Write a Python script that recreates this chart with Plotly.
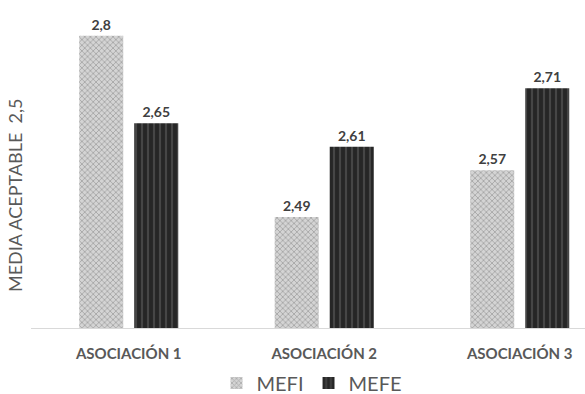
import plotly.graph_objects as go

categories = ["ASOCIACIÓN 1", "ASOCIACIÓN 2", "ASOCIACIÓN 3"]
mefi = [2.8, 2.49, 2.57]
mefe = [2.65, 2.61, 2.71]
series_names = ["MEFI", "MEFE"]


def comma_labels(values):
    return [str(v).replace(".", ",") for v in values]


FONT = "Lato, Open Sans, sans-serif"
label_font = dict(family=FONT, size=14, color="#404040", weight="bold")

fig = go.Figure()
fig.add_trace(go.Bar(
    name=series_names[0], x=categories, y=mefi,
    text=comma_labels(mefi), textposition="outside", textfont=label_font,
    cliponaxis=False,
    marker=dict(color="#bdbdbd",
                pattern=dict(shape="x", fgcolor="#7a7a7a", bgcolor="#d4d4d4",
                             size=4, solidity=0.4, fillmode="overlay"),
                line=dict(width=0)),
))
fig.add_trace(go.Bar(
    name=series_names[1], x=categories, y=mefe,
    text=comma_labels(mefe), textposition="outside", textfont=label_font,
    cliponaxis=False,
    marker=dict(color="#2e2e2e",
                pattern=dict(shape="|", fgcolor="#666666", bgcolor="#262626",
                             size=6, solidity=0.35, fillmode="overlay"),
                line=dict(width=0)),
))

fig.update_layout(
    width=585, height=394,
    margin=dict(l=31, r=0, t=0, b=66, autoexpand=False),
    paper_bgcolor="white", plot_bgcolor="white",
    barmode="group", bargap=0.437, bargroupgap=0.2,
    showlegend=True,
    legend=dict(orientation="h", xref="container", yref="container",
                x=312 / 585, xanchor="center", y=(394 - 383) / 394, yanchor="middle",
                font=dict(family=FONT, size=20, color="#595959"),
                itemwidth=30, traceorder="normal"),
    xaxis=dict(range=[-0.5, 2.334], showline=True, linecolor="#d9d9d9", linewidth=1,
               ticks="outside", ticklen=12, tickcolor="rgba(0,0,0,0)",
               tickfont=dict(family=FONT, size=15, color="#595959", weight="bold"),
               showgrid=False, zeroline=False, fixedrange=True, automargin=False),
    yaxis=dict(range=[2.3, 2.861], visible=False, showgrid=False, zeroline=False),
    annotations=[dict(
        text="MEDIA ACEPTABLE  2,5", xref="paper", yref="paper",
        x=-31 / 554 + 15 / 554, y=(328 - 195) / 328, textangle=-90,
        showarrow=False, xanchor="center", yanchor="middle",
        font=dict(family=FONT, size=18, color="#595959"),
    )],
)

fig.write_html("out.html")
